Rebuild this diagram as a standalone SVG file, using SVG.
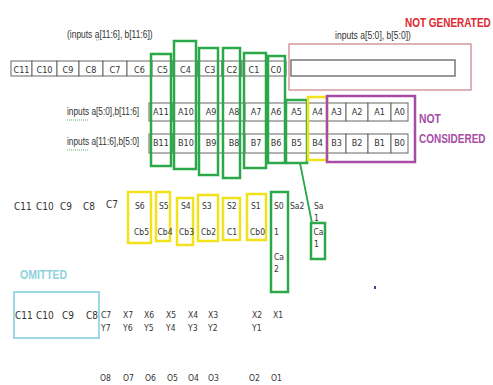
<svg xmlns="http://www.w3.org/2000/svg" width="493" height="385" viewBox="0 0 493 385">
<style>
.t{font-family:"Liberation Sans Narrow","DejaVu Sans Condensed","Liberation Sans",sans-serif;font-size:10px;fill:#333}
.l{font-family:"Liberation Sans",Arial,sans-serif;font-size:10px;fill:#333}
.c{text-anchor:middle}
.k{font-size:9px}
.s{font-size:8.5px}
.cell{fill:#fff;stroke:#666;stroke-width:1}
.g{fill:none;stroke:#2aa84a;stroke-width:2.5}
.y{fill:none;stroke:#f2e21a;stroke-width:2.5}
.b{font-family:"Liberation Sans",Arial,sans-serif;font-weight:bold;font-size:12.5px}
</style>
<rect width="493" height="385" fill="#fff"/>

<g id="labels">
<text class="l" transform="translate(67 38) scale(0.845 1)">(inputs a[11:6], b[11:6])</text>
<text class="l" transform="translate(335 39) scale(0.86 1)">inputs a[5:0], b[5:0])</text>
<text class="l" transform="translate(67 115) scale(0.83 1)">inputs a[5:0],b[11:6]</text>
<text class="l" transform="translate(67 145) scale(0.83 1)">inputs a[11:6],b[5:0]</text>
<path d="M67 120h22M67 150h22M96 40h3" stroke="#3a9a3a" stroke-width="0.8" stroke-dasharray="1 1" fill="none"/>
</g>

<g id="not-generated">
<rect x="289" y="44" width="182" height="46" fill="none" stroke="#c98088" stroke-width="1.2"/>
<rect x="291" y="60" width="164" height="16" fill="#fff" stroke="#777" stroke-width="1.5"/>
<text class="b" fill="#e0282e" transform="translate(405 27) scale(0.8 1)">NOT GENERATED</text>
</g>

<g id="row-c">
<rect class="cell" x="11" y="61" width="21" height="15"/><text class="t c k" x="21.5" y="72.5">C11</text>
<rect class="cell" x="32" y="61" width="25" height="15"/><text class="t c k" x="44.5" y="72.5">C10</text>
<rect class="cell" x="57" y="61" width="22" height="15"/><text class="t c k" x="68" y="72.5">C9</text>
<rect class="cell" x="79" y="61" width="24" height="15"/><text class="t c k" x="91" y="72.5">C8</text>
<rect class="cell" x="103" y="61" width="24" height="15"/><text class="t c k" x="115" y="72.5">C7</text>
<rect class="cell" x="127" y="61" width="25" height="15"/><text class="t c k" x="139.5" y="72.5">C6</text>
<rect class="cell" x="152" y="61" width="21" height="15"/><text class="t c k" x="162.5" y="72.5">C5</text>
<rect class="cell" x="173" y="61" width="25" height="15"/><text class="t c k" x="185.5" y="72.5">C4</text>
<rect class="cell" x="198" y="61" width="24" height="15"/><text class="t c k" x="210" y="72.5">C3</text>
<rect class="cell" x="222" y="61" width="20" height="15"/><text class="t c k" x="232" y="72.5">C2</text>
<rect class="cell" x="242" y="61" width="24" height="15"/><text class="t c k" x="254" y="72.5">C1</text>
<rect class="cell" x="266" y="61" width="20" height="15"/><text class="t c k" x="276" y="72.5">C0</text>
</g>

<g id="row-a">
<rect class="cell" x="149" y="103" width="24" height="18"/><text class="t c k" x="161" y="115">A11</text>
<rect class="cell" x="173" y="103" width="26" height="18"/><text class="t c k" x="186" y="115">A10</text>
<rect class="cell" x="199" y="103" width="24" height="18"/><text class="t c k" x="211" y="115">A9</text>
<rect class="cell" x="223" y="103" width="22" height="18"/><text class="t c k" x="234" y="115">A8</text>
<rect class="cell" x="245" y="103" width="22" height="18"/><text class="t c k" x="256" y="115">A7</text>
<rect class="cell" x="267" y="103" width="18" height="18"/><text class="t c k" x="276" y="115">A6</text>
<rect class="cell" x="285" y="103" width="23" height="18"/><text class="t c k" x="296.5" y="115">A5</text>
<rect class="cell" x="308" y="103" width="19" height="18"/><text class="t c k" x="317.5" y="115">A4</text>
<rect class="cell" x="327" y="103" width="19" height="18"/><text class="t c k" x="336.5" y="115">A3</text>
<rect class="cell" x="346" y="103" width="22" height="18"/><text class="t c k" x="357" y="115">A2</text>
<rect class="cell" x="368" y="103" width="23" height="18"/><text class="t c k" x="379.5" y="115">A1</text>
<rect class="cell" x="391" y="103" width="17" height="18"/><text class="t c k" x="399.5" y="115">A0</text>
</g>

<g id="row-b">
<rect class="cell" x="149" y="134" width="24" height="19"/><text class="t c k" x="161" y="146">B11</text>
<rect class="cell" x="173" y="134" width="26" height="19"/><text class="t c k" x="186" y="146">B10</text>
<rect class="cell" x="199" y="134" width="24" height="19"/><text class="t c k" x="211" y="146">B9</text>
<rect class="cell" x="223" y="134" width="22" height="19"/><text class="t c k" x="234" y="146">B8</text>
<rect class="cell" x="245" y="134" width="22" height="19"/><text class="t c k" x="256" y="146">B7</text>
<rect class="cell" x="267" y="134" width="18" height="19"/><text class="t c k" x="276" y="146">B6</text>
<rect class="cell" x="285" y="134" width="23" height="19"/><text class="t c k" x="296.5" y="146">B5</text>
<rect class="cell" x="308" y="134" width="19" height="19"/><text class="t c k" x="317.5" y="146">B4</text>
<rect class="cell" x="327" y="134" width="19" height="19"/><text class="t c k" x="336.5" y="146">B3</text>
<rect class="cell" x="346" y="134" width="22" height="19"/><text class="t c k" x="357" y="146">B2</text>
<rect class="cell" x="368" y="134" width="23" height="19"/><text class="t c k" x="379.5" y="146">B1</text>
<rect class="cell" x="391" y="134" width="17" height="19"/><text class="t c k" x="399.5" y="146">B0</text>
</g>

<g id="green-columns">
<rect class="g" x="151" y="54" width="20" height="112"/>
<rect class="g" x="174" y="41" width="22" height="128"/>
<rect class="g" x="199" y="48" width="19" height="127"/>
<rect class="g" x="223" y="48" width="17" height="130"/>
<rect class="g" x="244" y="53" width="22" height="115"/>
<rect class="g" x="268" y="56" width="17" height="107"/>
<rect class="g" x="286" y="100" width="21" height="63"/>
</g>

<g id="a4-box"><rect class="y" x="308" y="97" width="19" height="63"/></g>

<g id="not-considered">
<rect x="327" y="96" width="88" height="66" fill="none" stroke="#a64ca6" stroke-width="2.5"/>
<text class="b" fill="#a64ca6" transform="translate(419 123) scale(0.83 1)">NOT</text>
<text class="b" fill="#a64ca6" transform="translate(419 143) scale(0.8 1)">CONSIDERED</text>
</g>

<g id="connectors">
<path d="M300 163L312 223" fill="none" stroke="#2aa84a" stroke-width="1.8"/>
</g>

<g id="sum-row">
<text class="t" x="14" y="210">C11</text>
<text class="t" x="36" y="210">C10</text>
<text class="t" x="60" y="210">C9</text>
<text class="t" x="83" y="210">C8</text>
<text class="t" x="106" y="208">C7</text>
</g>

<g id="s6"><rect class="y" x="128" y="192" width="23" height="51"/><text class="t s" x="135" y="209">S6</text><text class="t s" x="134" y="235">Cb5</text></g>
<g id="s5"><rect class="y" x="156" y="192" width="14" height="49"/><text class="t s" x="159" y="209">S5</text><text class="t s" x="157.5" y="235">Cb4</text></g>
<g id="s4"><rect class="y" x="177" y="198" width="16" height="47"/><text class="t s" x="181" y="209">S4</text><text class="t s" x="179" y="235">Cb3</text></g>
<g id="s3"><rect class="y" x="198" y="195" width="20" height="46"/><text class="t s" x="202" y="209">S3</text><text class="t s" x="201" y="235">Cb2</text></g>
<g id="s2"><rect class="y" x="223" y="198" width="17" height="42"/><text class="t s" x="227" y="209">S2</text><text class="t s" x="227" y="235">C1</text></g>
<g id="s1"><rect class="y" x="247" y="194" width="19" height="46"/><text class="t s" x="251" y="209">S1</text><text class="t s" x="250" y="235">Cb0</text></g>
<g id="s0"><rect class="g" x="271" y="192" width="17" height="100"/><text class="t s" x="274" y="209">S0</text><text class="t s" x="274" y="235">1</text><text class="t s" x="274" y="260">Ca</text><text class="t s" x="274" y="272">2</text></g>
<g id="sa2"><text class="t s" x="290" y="209">Sa2</text></g>
<g id="sa1"><text class="t s" x="314" y="209">Sa</text><text class="t s" x="314" y="221">1</text></g>
<g id="ca1"><rect class="g" x="311" y="223" width="14" height="36"/><text class="t s" x="313.5" y="235">Ca</text><text class="t s" x="314" y="247">1</text></g>

<g id="omitted">
<text class="b" fill="#8fd3dc" transform="translate(20 279) scale(0.84 1)">OMITTED</text>
<rect x="14" y="292" width="85" height="46" fill="none" stroke="#9dd8e6" stroke-width="2"/>
<text class="t" x="15" y="319">C11</text>
<text class="t" x="36" y="319">C10</text>
<text class="t" x="62" y="319">C9</text>
<text class="t" x="86" y="319">C8</text>
</g>

<g id="xy-row">
<text class="t s" x="101" y="318">C7</text><text class="t s" x="101" y="331">Y7</text>
<text class="t s" x="123" y="318">X7</text><text class="t s" x="123" y="331">Y6</text>
<text class="t s" x="144" y="318">X6</text><text class="t s" x="144" y="331">Y5</text>
<text class="t s" x="166" y="318">X5</text><text class="t s" x="166" y="331">Y4</text>
<text class="t s" x="188" y="318">X4</text><text class="t s" x="188" y="331">Y3</text>
<text class="t s" x="208" y="318">X3</text><text class="t s" x="208" y="331">Y2</text>
<text class="t s" x="252" y="318">X2</text><text class="t s" x="252" y="331">Y1</text>
<text class="t s" x="273" y="318">X1</text>
</g>

<g id="o-row">
<text class="t s" x="100" y="381">O8</text>
<text class="t s" x="123" y="381">O7</text>
<text class="t s" x="145" y="381">O6</text>
<text class="t s" x="167" y="381">O5</text>
<text class="t s" x="188" y="381">O4</text>
<text class="t s" x="208" y="381">O3</text>
<text class="t s" x="249" y="381">O2</text>
<text class="t s" x="271" y="381">O1</text>
</g>

<rect x="374" y="286" width="2" height="3" fill="#3344aa"/>
</svg>
